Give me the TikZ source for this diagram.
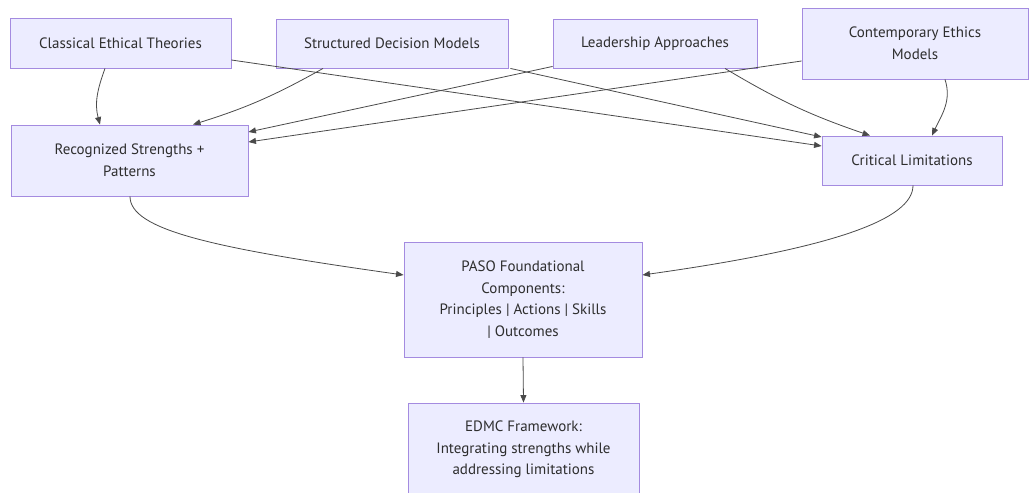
\documentclass[tikz,border=0pt]{standalone}
\usepackage{fontspec}
\setmainfont{PT Sans}
\usetikzlibrary{arrows.meta}
\definecolor{boxfill}{HTML}{ECECFF}
\definecolor{boxline}{HTML}{A48BE0}
\definecolor{ink}{HTML}{2E2E2E}
\definecolor{wire}{HTML}{4A4A4A}
\begin{document}
\begin{tikzpicture}[x=1pt,y=1pt,
  box/.style={draw=boxline, fill=boxfill, line width=0.9pt, text=ink,
    align=center, inner sep=0pt, font=\fontsize{15}{21.7}\selectfont},
  link/.style={draw=wire, line width=0.8pt,
    -{Triangle[length=7.5pt,width=6pt]}}]
\useasboundingbox (0,0) rectangle (1029,493);

% top row of source families
\node[box, minimum width=221pt, minimum height=50pt] (cet) at (120.5,450) {Classical Ethical Theories};
\node[box, minimum width=232pt, minimum height=49pt] (sdm) at (392,449.5) {Structured Decision Models};
\node[box, minimum width=204pt, minimum height=49pt] (la)  at (655,449.5) {Leadership Approaches};
\node[box, minimum width=226pt, minimum height=71pt] (cem) at (915,449.5) {Contemporary Ethics\\Models};

% analysis row
\node[box, minimum width=237pt, minimum height=71pt] (rsp) at (129.5,332.5) {Recognized Strengths +\\Patterns};
\node[box, minimum width=180pt, minimum height=49pt] (cl)  at (912,332.5) {Critical Limitations};

% synthesis
\node[box, minimum width=238pt, minimum height=115pt] (paso) at (523,193.5)
  {PASO Foundational\\Components:\\Principles | Actions | Skills\\| Outcomes};
\node[box, minimum width=231pt, minimum height=93pt] (edmc) at (523.5,43.5)
  {EDMC Framework:\\Integrating strengths while\\addressing limitations};

% sources -> strengths
\draw[link] ([xshift=-15.5pt]cet.south) to[out=250,in=105] ([xshift=-29.5pt]rsp.north);
\draw[link] ([xshift=-69pt]sdm.south) to[bend left=6] ([xshift=63.5pt]rsp.north);
\draw[link] ([yshift=2pt]la.south west) -- ([yshift=28.5pt]rsp.east);
\draw[link] ([yshift=-17.5pt]cem.west) -- ([yshift=18.5pt]rsp.east);

% sources -> limitations
\draw[link] ([yshift=-17pt]cet.east) -- ([yshift=14.5pt]cl.west);
\draw[link] ([xshift=2pt]sdm.south east) -- ([yshift=23.5pt]cl.west);
\draw[link] ([xshift=70pt]la.south) to[bend right=6] ([xshift=-42pt]cl.north);
\draw[link] ([xshift=30pt]cem.south) to[out=-72,in=65] ([xshift=20pt]cl.north);

% into the foundational components
\draw[link] ([xshift=0.5pt]rsp.south) to[out=270,in=172,out looseness=0.3,in looseness=1.75] ([yshift=24.5pt]paso.west);
\draw[link] ([xshift=1pt]cl.south) to[out=270,in=8,out looseness=0.3,in looseness=1.75] ([yshift=24.5pt]paso.east);
\draw[link] (paso.south) -- (edmc.north);
\end{tikzpicture}
\end{document}
